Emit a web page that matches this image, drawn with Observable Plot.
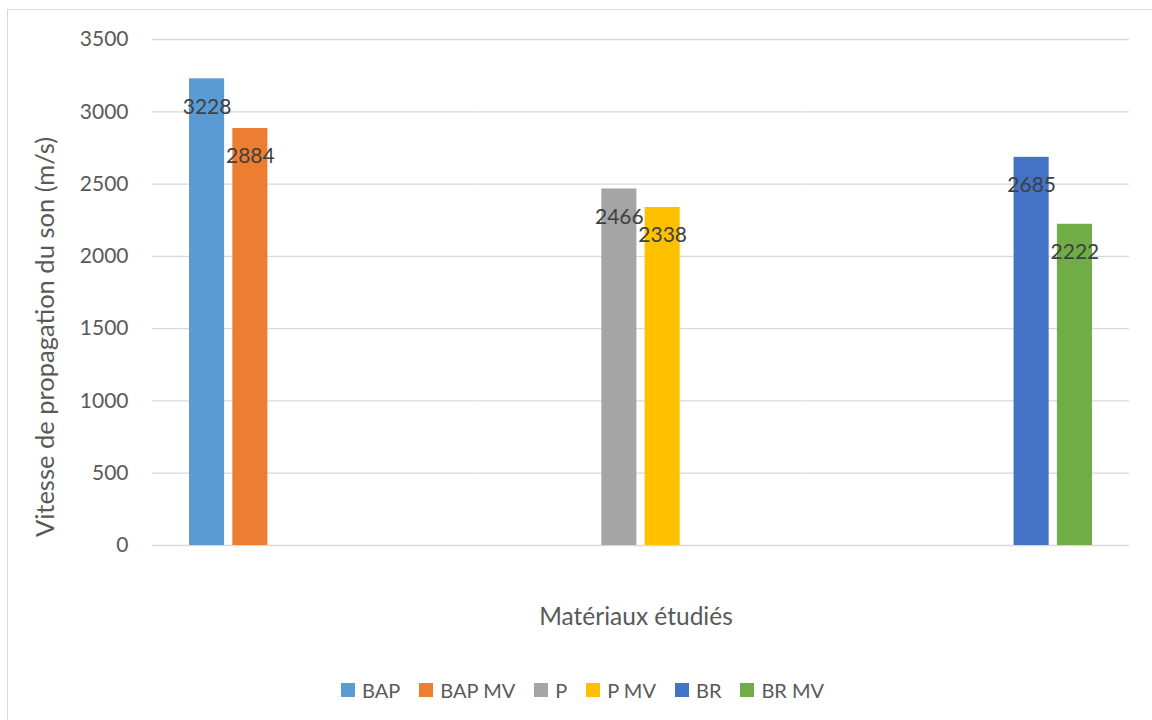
<!DOCTYPE html>
<html>
<head>
<meta charset="utf-8">
<script src="https://cdn.jsdelivr.net/npm/d3@7"></script>
<script src="https://cdn.jsdelivr.net/npm/@observablehq/plot@0.6"></script>
<style>
  html, body { margin: 0; padding: 0; background: #fff; overflow: hidden; }
  #chart { position: relative; width: 1152px; height: 720px; font-family: Lato, "Open Sans", sans-serif; }
  #frame { position: absolute; left: 6.5px; top: 8.5px; width: 1300px; height: 900px; border: 1.5px solid #d9d9d9; box-sizing: border-box; }
  #plot { position: absolute; left: 0; top: 0; }
  .title { position: absolute; color: #595959; line-height: 1; white-space: nowrap; }
  #xtitle { left: 636px; top: 604px; font-size: 24.5px; transform: translateX(-50%); }
  #ytitle { left: 45px; top: 337px; font-size: 25.5px; transform: translate(-50%, -50%) rotate(-90deg); }
  #legend { position: absolute; left: 341px; top: 673px; }
  .lg-swatches { font-family: Lato, sans-serif !important; font-size: 20px !important; color: #595959 !important; }
  .lg-swatch { margin-right: 19px !important; }
  .lg-swatch > svg { margin-right: 7px !important; }
</style>
</head>
<body>
<div id="chart">
  <div id="frame"></div>
  <div id="plot"></div>
  <div id="xtitle" class="title">Matériaux étudiés</div>
  <div id="ytitle" class="title">Vitesse de propagation du son (m/s)</div>
  <div id="legend"></div>
</div>
<script>
// Material groups along the x axis, each holding a pair of series
const categories = ["BAP", "P", "BR"];
const series = ["BAP", "BAP MV", "P", "P MV", "BR", "BR MV"];
const groupOf = ["BAP", "BAP", "P", "P", "BR", "BR"];
const speeds = [3228, 2884, 2466, 2338, 2685, 2222];
const colors = ["#5B9BD5", "#ED7D31", "#A5A5A5", "#FFC000", "#4472C4", "#70AD47"];
const yTicks = [0, 500, 1000, 1500, 2000, 2500, 3000, 3500];

const rows = series.map((s, i) => ({category: groupOf[i], series: s, value: speeds[i]}));

const chart = Plot.plot({
  width: 1152,
  height: 560,
  marginLeft: 152,
  marginRight: 23,
  marginTop: 39,
  marginBottom: 15,
  style: {fontFamily: "Lato, 'Open Sans', sans-serif", fontSize: "21px", color: "#595959", background: "transparent"},
  facet: {data: rows, x: "category"},
  fx: {domain: categories, padding: 0, round: false, axis: null, label: null},
  x: {domain: series, paddingInner: 0.19, paddingOuter: 0.855, round: false, axis: null},
  y: {domain: [0, 3500], ticks: yTicks, tickSize: 0, tickPadding: 24, label: null, tickFormat: d3.format("d")},
  color: {domain: series, range: colors},
  marks: [
    Plot.ruleY(yTicks.filter(t => t > 0), {stroke: "#d9d9d9", strokeWidth: 1.3}),
    Plot.ruleY([0], {stroke: "#d9d9d9", strokeWidth: 1.6}),
    Plot.barY(rows, {x: "series", y: "value", fill: "series"}),
    Plot.text(rows, {x: "series", y: "value", text: d => String(d.value), dy: 28, fill: "#404040", fontSize: 21})
  ]
});
document.getElementById("plot").appendChild(chart);

const legend = Plot.legend({
  color: {domain: series, range: colors},
  legend: "swatches",
  swatchSize: 14,
  className: "lg"
});
document.getElementById("legend").appendChild(legend);
</script>
</body>
</html>
